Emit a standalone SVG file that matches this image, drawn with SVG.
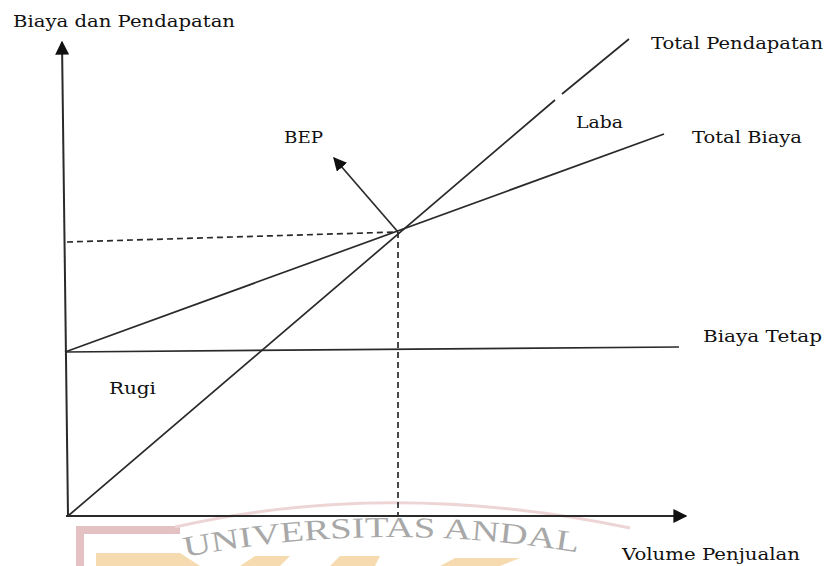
<svg xmlns="http://www.w3.org/2000/svg" width="827" height="566" viewBox="0 0 827 566">
<style>
.lbl{font-family:"DejaVu Serif","Liberation Serif",serif;font-size:16px;fill:#111}
.ln{stroke:#2a2a2a;stroke-width:1.7;fill:none}
.ax{stroke:#2a2a2a;stroke-width:2;fill:none}
.ds{stroke:#2a2a2a;stroke-width:1.7;fill:none;stroke-dasharray:6 4}
</style>
<defs>
<marker id="ah" viewBox="0 0 10 10" refX="9" refY="5" markerWidth="7" markerHeight="7" markerUnits="strokeWidth" orient="auto">
<path d="M0,0 L10,5 L0,10 Z" fill="#111"/>
</marker>
<marker id="ah2" viewBox="0 0 10 10" refX="9" refY="5" markerWidth="8" markerHeight="8" markerUnits="strokeWidth" orient="auto">
<path d="M0,0 L10,5 L0,10 Z" fill="#111"/>
</marker>
<path id="wm" d="M185,557 Q385,518 592,555"/>
</defs>
<rect width="827" height="566" fill="#fff"/>
<g id="watermark" opacity="0.75">
<path d="M80,566 L80,530 L180,530" stroke="#dcaeb0" stroke-width="8" fill="none"/>
<path d="M96,566 L96,553 L180,553 L200,566 Z" fill="#f2cf95"/>
<path d="M240,566 L255,556 L290,556 L280,566 Z" fill="#f2cf95"/>
<path d="M330,566 L340,556 L380,556 L375,566 Z" fill="#f2cf95"/>
<path d="M440,566 L455,558 L520,558 L500,566 Z" fill="#f2cf95"/>
<path d="M175,527 Q390,478 630,528" stroke="#e8c6c8" stroke-width="3" fill="none"/>
<text font-family="Liberation Serif,serif" font-size="29" fill="#8c8c8c" textLength="395" lengthAdjust="spacingAndGlyphs"><textPath href="#wm">UNIVERSITAS ANDAL</textPath></text>
</g>
<g id="connectors">
<line id="y-axis" class="ax" x1="68" y1="516" x2="62" y2="42" marker-end="url(#ah)"/>
<line id="x-axis" class="ax" x1="66" y1="516" x2="686" y2="516" marker-end="url(#ah)"/>
<line id="biaya-tetap-line" class="ln" x1="65" y1="352" x2="679" y2="347"/>
<line id="total-biaya-line" class="ln" x1="65" y1="352" x2="664" y2="134"/>
<path id="total-pendapatan-line" class="ln" d="M68,516 L555,100 M562,94 L629,39"/>
<line id="bep-h" class="ds" x1="67" y1="242" x2="398" y2="232"/>
<line id="bep-v" class="ds" x1="398" y1="232" x2="398" y2="516"/>
<line id="bep-arrow" class="ln" x1="398" y1="232" x2="334" y2="158" marker-end="url(#ah2)"/>
</g>
<g id="label-y"><text class="lbl" x="13" y="27" textLength="222" lengthAdjust="spacingAndGlyphs">Biaya dan Pendapatan</text></g>
<g id="label-total-pendapatan"><text class="lbl" x="651" y="49" textLength="172" lengthAdjust="spacingAndGlyphs">Total Pendapatan</text></g>
<g id="label-laba"><text class="lbl" x="576" y="128" textLength="47" lengthAdjust="spacingAndGlyphs">Laba</text></g>
<g id="label-total-biaya"><text class="lbl" x="692" y="143" textLength="110" lengthAdjust="spacingAndGlyphs">Total Biaya</text></g>
<g id="label-bep"><text class="lbl" x="284" y="143" textLength="39" lengthAdjust="spacingAndGlyphs">BEP</text></g>
<g id="label-biaya-tetap"><text class="lbl" x="703" y="342" textLength="119" lengthAdjust="spacingAndGlyphs">Biaya Tetap</text></g>
<g id="label-rugi"><text class="lbl" x="109" y="394" textLength="47" lengthAdjust="spacingAndGlyphs">Rugi</text></g>
<g id="label-x"><text class="lbl" x="622" y="560" textLength="178" lengthAdjust="spacingAndGlyphs">Volume  Penjualan</text></g>
</svg>
